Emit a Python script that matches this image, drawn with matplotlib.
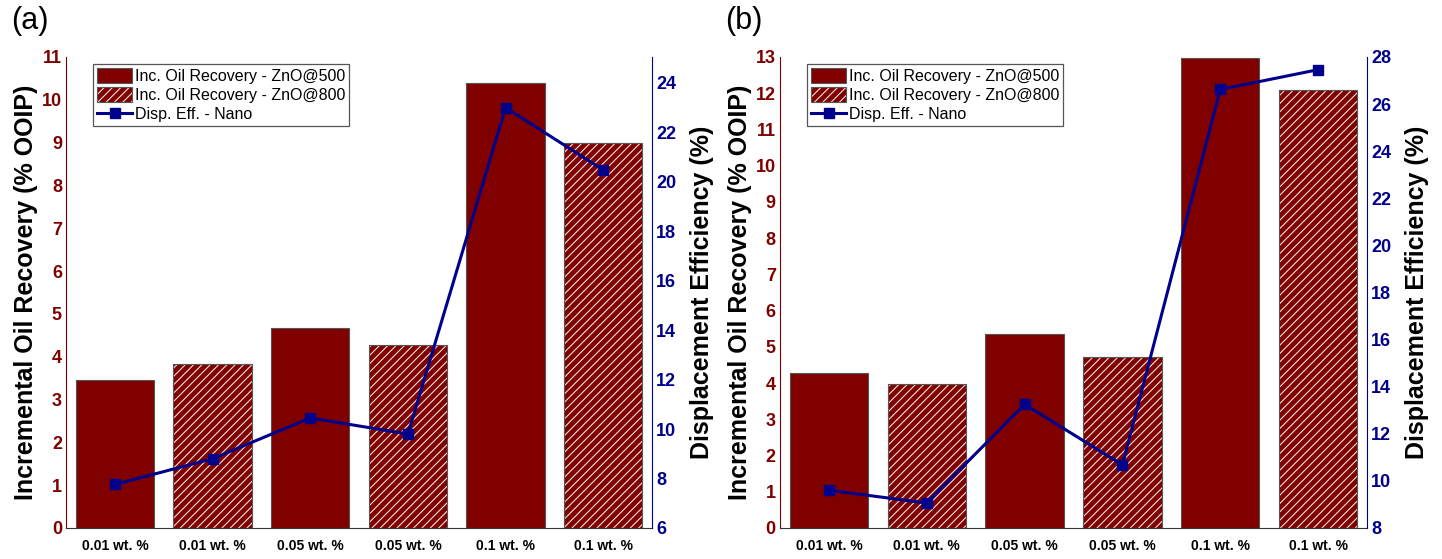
import numpy as np
import matplotlib
matplotlib.use("Agg")
import matplotlib.pyplot as plt

plt.rcParams['font.family'] = ['Liberation Sans', 'DejaVu Sans']
plt.rcParams['hatch.linewidth'] = 0.8

# Dados
conc = ["0.01 wt. %", "0.01 wt. %", "0.05 wt. %", "0.05 wt. %", "0.1 wt. %", "0.1 wt. %"]
oleo_a = [3.46, 3.84, 4.66, 4.28, 10.4, 9.0]
disp_a = [7.76, 8.8, 10.45, 9.8, 23.0, 20.48]
oleo_b = [4.29, 3.97, 5.36, 4.71, 12.97, 12.1]
disp_b = [9.6, 9.06, 13.25, 10.68, 26.62, 27.46]
hachura = [False, True, False, True, False, True]

vermelho = '#800000'
azul = '#00008B'


def painel(ax1, oleo, disp, ylim1, ylim2, tick2, letra):
    x = np.arange(len(conc))
    hatches = ['////' if h else '' for h in hachura]
    fill = ax1.bar(x, oleo, 0.8, color=vermelho, edgecolor='#f0e0e0', linewidth=0, hatch=hatches, zorder=2)
    edge = ax1.bar(x, oleo, 0.8, fill=False, edgecolor='#555555', linewidth=0.8, zorder=3)
    ax1.set_xlim(-0.5, 5.5)
    ax1.set_ylim(*ylim1)
    ax1.set_yticks(np.arange(ylim1[0], ylim1[1] + 1, 1))
    ax1.set_xticks(x)
    ax1.set_xticklabels(conc, fontsize=10, fontweight='bold')
    ax1.tick_params(axis='x', length=0, pad=8)
    ax1.tick_params(axis='y', length=0, pad=3, labelcolor=vermelho, labelsize=13)
    for lb in ax1.get_yticklabels():
        lb.set_fontweight('bold')
    ax1.set_ylabel('Incremental Oil Recovery (% OOIP)', fontsize=18, fontweight='bold', labelpad=3)
    ax1.spines['top'].set_visible(False)
    ax1.spines['right'].set_visible(False)
    ax1.spines['left'].set_color(vermelho)
    ax1.spines['bottom'].set_color('#333333')

    ax2 = ax1.twinx()
    linha, = ax2.plot(x, disp, color=azul, linewidth=2.2, marker='s', markersize=7, zorder=4)
    ax2.set_ylim(*ylim2)
    ax2.set_yticks(tick2)
    ax2.tick_params(axis='y', length=0, pad=3, labelcolor=azul, labelsize=13)
    for lb in ax2.get_yticklabels():
        lb.set_fontweight('bold')
    ax2.set_ylabel('Displacement Efficiency (%)', fontsize=18, fontweight='bold', labelpad=10)
    for s in ['top', 'left', 'bottom']:
        ax2.spines[s].set_visible(False)
    ax2.spines['right'].set_color(azul)

    leg = ax2.legend([(fill[0], edge[0]), (fill[1], edge[1]), linha],
                     ['Inc. Oil Recovery - ZnO@500', 'Inc. Oil Recovery - ZnO@800', 'Disp. Eff. - Nano'],
                     loc='upper left', bbox_to_anchor=(0.046, 0.985), fontsize=11.5,
                     fancybox=False, framealpha=1, edgecolor='#555555',
                     handlelength=2.2, handleheight=1.1, handletextpad=0.15,
                     labelspacing=0.18, borderpad=0.25, borderaxespad=0)
    leg.get_frame().set_linewidth(0.9)
    ax1.text(-0.094, 1.045, letra, transform=ax1.transAxes, fontsize=22, va='bottom', ha='left')


fig = plt.figure(figsize=(14.42, 5.59), dpi=100)
axa = fig.add_axes([0.0458, 0.0555, 0.4064, 0.8426])
axb = fig.add_axes([0.5409, 0.0555, 0.4071, 0.8426])

painel(axa, oleo_a, disp_a, (0, 11), (6, 25.05), np.arange(6, 25, 2), '(a)')
painel(axb, oleo_b, disp_b, (0, 13), (8, 28), np.arange(8, 29, 2), '(b)')

fig.savefig('out.png', dpi=100)
